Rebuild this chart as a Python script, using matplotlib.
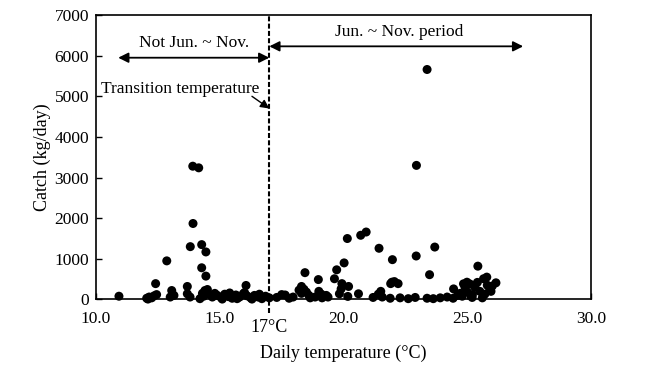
import numpy as np
import matplotlib
matplotlib.use('Agg')
import matplotlib.pyplot as plt

### Data (temperature in deg C, catch in kg/day)
temp_cold = [10.93, 12.05, 12.15, 12.25, 12.35, 12.45, 12.10, 12.41, 12.86, 13.06,
             13.15, 13.00, 13.69, 13.69, 13.80, 13.91, 14.15, 13.92, 13.81, 14.27,
             14.44, 14.27, 14.44, 14.40, 14.50, 14.30, 14.35, 14.60, 16.06, 14.20,
             14.70, 14.90, 15.05, 15.20, 15.35, 15.50, 15.65, 15.80, 15.95, 16.10,
             16.25, 16.40, 16.55, 16.70, 16.85, 17.00, 14.80, 15.40, 16.00, 16.60,
             15.10, 15.70, 16.30]
catch_cold = [80, 30, 60, 40, 90, 120, 10, 390, 950, 220,
              100, 60, 320, 140, 60, 3280, 3240, 1870, 1300, 1350,
              1170, 780, 575, 220, 245, 150, 80, 120, 345, 20,
              60, 100, 50, 130, 70, 30, 110, 60, 140, 90,
              40, 100, 60, 20, 80, 40, 150, 160, 170, 130,
              10, 20, 10]

temp_warm = [17.30, 17.50, 17.64, 17.80, 17.96, 18.20, 18.30, 18.40, 18.50, 18.44,
             18.30, 18.60, 18.65, 18.85, 18.98, 19.00, 19.10, 19.13, 19.37, 19.30,
             19.72, 20.02, 19.63, 19.93, 20.20, 19.83, 19.90, 20.17, 20.60, 20.15,
             20.69, 20.91, 21.43, 21.97, 22.93, 23.68, 23.47, 22.94, 23.37, 21.19,
             21.40, 21.50, 21.56, 21.88, 21.90, 21.95, 22.20, 22.05, 22.28, 22.61,
             22.89, 23.37, 23.62, 23.90, 24.18, 24.42, 24.79, 25.19, 25.60, 24.44,
             24.84, 24.98, 25.42, 25.65, 25.78, 26.15, 25.30, 25.50, 25.80, 25.90,
             24.70, 25.00, 25.20, 25.70, 25.95, 24.90, 25.10, 25.40, 26.00, 24.60]
catch_warm = [50, 120, 110, 30, 60, 230, 320, 250, 180, 660,
              150, 100, 40, 60, 490, 200, 130, 40, 60, 100,
              730, 900, 510, 390, 320, 140, 260, 75, 140, 1500,
              1580, 1660, 1260, 980, 1070, 1290, 610, 3300, 5660, 50,
              130, 200, 60, 30, 390, 425, 390, 440, 40, 20,
              50, 30, 20, 40, 60, 30, 80, 50, 40, 260,
              385, 425, 820, 510, 550, 410, 300, 200, 350, 250,
              150, 180, 120, 130, 200, 300, 380, 420, 330, 100]

x_ticks = [10, 15, 20, 25, 30]
y_ticks = [0, 1000, 2000, 3000, 4000, 5000, 6000, 7000]
t_transition = 17

### Plot settings
plt.rcParams['font.family'] = ['Liberation Serif', 'DejaVu Serif']
ticksize = 12.5
labelsize = 13
notesize = 12.5
msize = 42

fig = plt.figure(figsize=(6.57, 3.67), dpi=100)
ax = fig.add_axes([0.146, 0.184, 0.754, 0.775])

temps = np.array(temp_cold + temp_warm)
catches = np.array(catch_cold + catch_warm)
ax.scatter(temps, catches, s=msize, color='k', edgecolor='none', clip_on=False, zorder=5)

# transition line, runs a little below the axis
ax.plot([t_transition, t_transition], [-330, 7000], color='k', lw=1.5,
        dashes=(2.4, 1.1), clip_on=False, zorder=4)
ax.text(t_transition, -480, '17°C', ha='center', va='top', fontsize=labelsize)

# period arrows
ax.annotate('', xy=(10.9, 5950), xytext=(t_transition, 5950),
            arrowprops=dict(arrowstyle='<|-|>', color='k', lw=1.3, mutation_scale=15,
                            shrinkA=0, shrinkB=0))
ax.text(13.95, 6110, 'Not Jun. ~ Nov.', ha='center', va='bottom', fontsize=notesize)
ax.annotate('', xy=(t_transition, 6230), xytext=(27.25, 6230),
            arrowprops=dict(arrowstyle='<|-|>', color='k', lw=1.3, mutation_scale=15,
                            shrinkA=0, shrinkB=0))
ax.text(22.25, 6380, 'Jun. ~ Nov. period', ha='center', va='bottom', fontsize=notesize)

ax.annotate('', xy=(t_transition, 4700), xytext=(16.3, 5000),
            arrowprops=dict(arrowstyle='-|>', color='k', lw=1.0, mutation_scale=13,
                            shrinkA=0, shrinkB=0))
ax.text(10.2, 5180, 'Transition temperature', ha='left', va='center', fontsize=notesize)

ax.set_xlim(10, 30)
ax.set_ylim(0, 7000)
ax.set_xticks(x_ticks)
ax.set_xticklabels(['%.1f' % t for t in x_ticks])
ax.set_yticks(y_ticks)
ax.tick_params(axis='both', direction='in', length=4, width=1, labelsize=ticksize)
ax.tick_params(axis='x', pad=8)
ax.tick_params(axis='y', pad=5)
for s in ax.spines.values():
    s.set_linewidth(1.2)

ax.set_xlabel('Daily temperature (°C)', fontsize=labelsize)
ax.set_ylabel('Catch (kg/day)', fontsize=labelsize)
ax.xaxis.set_label_coords(0.5, -0.16)
ax.yaxis.set_label_coords(-0.09, 0.5)

plt.savefig('out.png', dpi=100)
